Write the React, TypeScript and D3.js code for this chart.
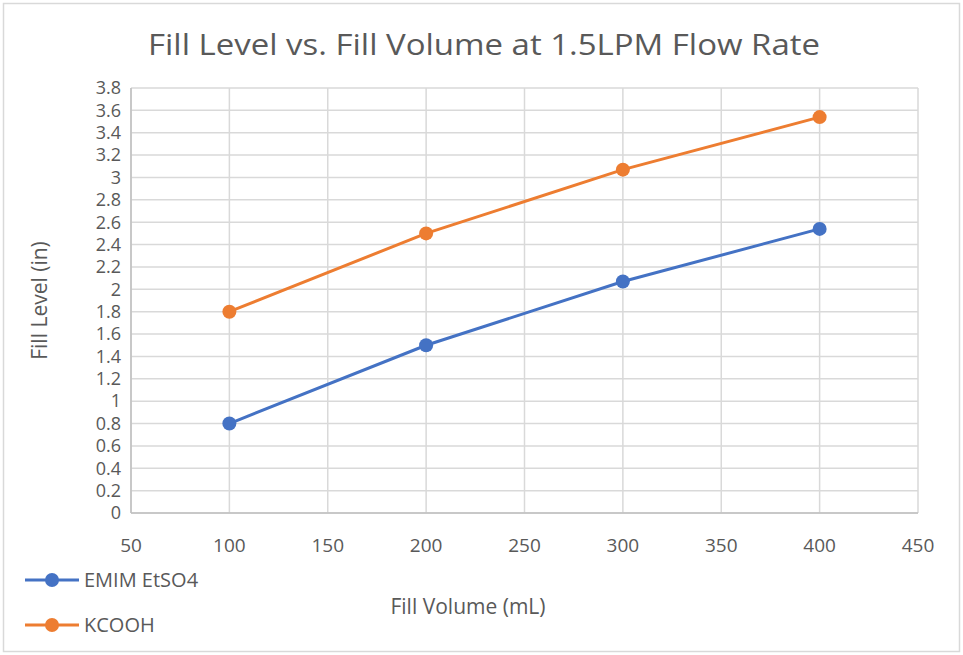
import React from 'react';
import * as d3 from 'd3';

const volumes = [100, 200, 300, 400];
const emimLevels = [0.8, 1.5, 2.07, 2.54];
const kcoohLevels = [1.8, 2.5, 3.07, 3.54];
const xTicks = [50, 100, 150, 200, 250, 300, 350, 400, 450];
const yTicks = d3.range(0, 3.81, 0.2).map(v => +v.toFixed(1));

const seriesList = [
  { name: 'EMIM EtSO4', values: emimLevels, color: '#4472C4' },
  { name: 'KCOOH', values: kcoohLevels, color: '#ED7D31' },
];

const W = 963;
const H = 655;
const margin = { top: 88, right: 45, bottom: 142, left: 131 };
const FONT = '"Open Sans", Lato, sans-serif';

export default function App() {
  const x = d3.scaleLinear().domain([50, 450]).range([margin.left, W - margin.right]);
  const y = d3.scaleLinear().domain([0, 3.8]).range([H - margin.bottom, margin.top]);
  const line = d3.line<number>().x((_, i) => x(volumes[i])).y(d => y(d));

  return (
    <svg width={W} height={H} style={{ position: 'absolute', left: 0, top: 0, background: '#fff' }} fontFamily={FONT}>
      <rect x={3.5} y={3.5} width={W - 7} height={H - 7} fill="#fff" stroke="#d9d9d9" strokeWidth={1.5} />
      <text x={484} y={55} textAnchor="middle" fontSize={29} fill="#595959" textLength={672} lengthAdjust="spacingAndGlyphs">
        Fill Level vs. Fill Volume at 1.5LPM Flow Rate
      </text>

      {/* grid */}
      {yTicks.map(t => (
        <line key={'gy' + t} x1={x(50)} x2={x(450)} y1={y(t)} y2={y(t)} stroke="#d9d9d9" strokeWidth={1.5} />
      ))}
      {xTicks.map(t => (
        <line key={'gx' + t} x1={x(t)} x2={x(t)} y1={y(0)} y2={y(3.8)} stroke="#d9d9d9" strokeWidth={1.5} />
      ))}
      <line x1={x(50)} x2={x(50)} y1={y(0)} y2={y(3.8)} stroke="#bfbfbf" strokeWidth={1.5} />
      <line x1={x(50)} x2={x(450)} y1={y(0)} y2={y(0)} stroke="#bfbfbf" strokeWidth={1.5} />

      {/* tick labels */}
      {yTicks.map(t => (
        <text key={'ty' + t} x={x(50) - 10} y={y(t)} dy="0.35em" textAnchor="end" fontSize={18} fill="#595959">
          {String(t)}
        </text>
      ))}
      {xTicks.map(t => (
        <text key={'tx' + t} x={x(t)} y={y(0) + 39} textAnchor="middle" fontSize={19} fill="#595959">
          {t}
        </text>
      ))}

      {/* axis titles */}
      <text x={468} y={614} textAnchor="middle" fontSize={21} fill="#595959">Fill Volume (mL)</text>
      <text transform={`translate(47,${y(1.9)}) rotate(-90)`} textAnchor="middle" fontSize={21} fill="#595959">
        Fill Level (in)
      </text>

      {/* series */}
      {seriesList.map(s => (
        <g key={s.name}>
          <path d={line(s.values) || ''} fill="none" stroke={s.color} strokeWidth={3} />
          {s.values.map((v, i) => (
            <circle key={i} cx={x(volumes[i])} cy={y(v)} r={7} fill={s.color} />
          ))}
        </g>
      ))}

      {/* legend */}
      {seriesList.map((s, i) => (
        <g key={'lg' + s.name} transform={`translate(0,${580 + i * 45})`}>
          <line x1={25} x2={79} y1={0} y2={0} stroke={s.color} strokeWidth={3} />
          <circle cx={52} cy={0} r={7} fill={s.color} />
          <text x={84} y={0} dy="0.35em" fontSize={20} fill="#595959">{s.name}</text>
        </g>
      ))}
    </svg>
  );
}
